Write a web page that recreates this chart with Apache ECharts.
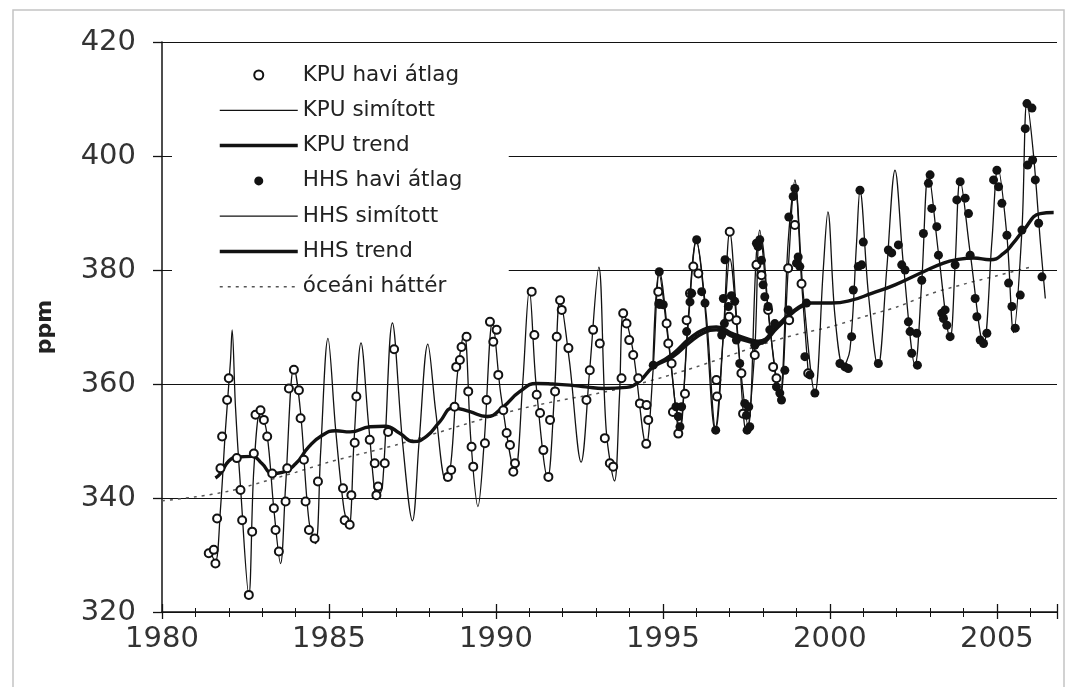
<!DOCTYPE html>
<html>
<head>
<meta charset="utf-8">
<script src="https://cdn.jsdelivr.net/npm/echarts@6/dist/echarts.min.js"></script>
<style>
  html, body { margin: 0; padding: 0; background: #fff; }
  #chart { width: 1071px; height: 687px; }
</style>
</head>
<body>
<div id="chart"></div>
<script>
// tengelyek
var xTicks = [1980, 1985, 1990, 1995, 2000, 2005];
var yTicks = [320, 340, 360, 380, 400, 420];

// KPU havi átlag (üres körök) [év, ppm]
var kpuMonthly = [
  [1981.40, 330.3], [1981.55, 330.9], [1981.60, 328.5], [1981.65, 336.4], [1981.75, 345.2],
  [1981.80, 350.8], [1981.95, 357.2], [1982.00, 361.0], [1982.24, 347.0], [1982.35, 341.4],
  [1982.40, 336.1], [1982.60, 323.0], [1982.70, 334.1], [1982.75, 347.8], [1982.80, 354.6],
  [1982.95, 355.4], [1983.05, 353.7], [1983.15, 350.8], [1983.30, 344.3], [1983.35, 338.2],
  [1983.40, 334.4], [1983.50, 330.6], [1983.70, 339.4], [1983.75, 345.2], [1983.80, 359.2],
  [1983.95, 362.5], [1984.10, 358.9], [1984.15, 354.0], [1984.25, 346.7], [1984.30, 339.4],
  [1984.40, 334.4], [1984.57, 332.9], [1984.67, 342.9], [1985.42, 341.7], [1985.47, 336.1],
  [1985.62, 335.3], [1985.67, 340.5], [1985.77, 349.7], [1985.82, 357.8], [1986.22, 350.2],
  [1986.37, 346.1], [1986.42, 340.5], [1986.47, 342.0], [1986.67, 346.1], [1986.77, 351.6],
  [1986.95, 366.1], [1988.56, 343.7], [1988.66, 344.9], [1988.76, 356.0], [1988.81, 363.0],
  [1988.92, 364.2], [1988.97, 366.5], [1989.12, 368.3], [1989.17, 358.7], [1989.27, 349.0],
  [1989.32, 345.5], [1989.67, 349.6], [1989.72, 357.2], [1989.82, 370.9], [1989.92, 367.4],
  [1990.02, 369.5], [1990.07, 361.6], [1990.22, 355.4], [1990.32, 351.4], [1990.42, 349.3],
  [1990.52, 344.6], [1990.57, 346.1], [1991.07, 376.2], [1991.15, 368.6], [1991.22, 358.1],
  [1991.32, 354.9], [1991.42, 348.4], [1991.57, 343.7], [1991.62, 353.7], [1991.77, 358.7],
  [1991.82, 368.3], [1991.92, 374.7], [1991.97, 373.0], [1992.17, 366.3], [1992.71, 357.2],
  [1992.81, 362.4], [1992.91, 369.5], [1993.11, 367.1], [1993.26, 350.5], [1993.41, 346.1],
  [1993.51, 345.5], [1993.76, 361.0], [1993.81, 372.4], [1993.91, 370.6], [1993.99, 367.7],
  [1994.11, 365.1], [1994.26, 361.0], [1994.31, 356.6], [1994.51, 356.3], [1994.56, 353.7],
  [1994.50, 349.5], [1994.86, 376.2], [1994.89, 374.1], [1995.11, 370.6], [1995.16, 367.1],
  [1995.26, 363.6], [1995.30, 355.1], [1995.46, 351.3], [1995.66, 358.3], [1995.71, 371.2],
  [1995.81, 375.9], [1995.91, 380.6], [1996.06, 379.4], [1996.60, 360.7], [1996.62, 357.8],
  [1997.00, 386.7], [1996.98, 371.8], [1997.20, 371.2], [1997.35, 361.9], [1997.40, 354.8],
  [1997.75, 365.1], [1997.80, 380.9], [1997.95, 379.1], [1998.15, 373.0], [1998.30, 363.0],
  [1998.40, 361.0], [1998.75, 380.3], [1998.78, 371.2], [1998.95, 387.9], [1999.15, 377.6],
  [1999.35, 361.9]
];

// KPU simított
var kpuSmooth = [
  [1981.45, 330.5], [1981.6, 328.8], [1981.75, 338], [1981.9, 352], [1982.05, 364],
  [1982.1, 369.5], [1982.2, 356], [1982.35, 342], [1982.6, 323], [1982.75, 345],
  [1982.95, 355.5], [1983.15, 351], [1983.35, 338], [1983.55, 328.5], [1983.7, 342],
  [1983.95, 363], [1984.15, 355], [1984.4, 336], [1984.6, 332], [1984.75, 348],
  [1984.97, 368], [1985.2, 352], [1985.45, 338], [1985.6, 335], [1985.75, 350],
  [1985.96, 367.2], [1986.2, 352], [1986.45, 340], [1986.6, 342], [1986.9, 370.7],
  [1987.2, 350], [1987.5, 336], [1987.7, 350], [1987.96, 367], [1988.2, 355],
  [1988.5, 343], [1988.65, 346], [1988.85, 362], [1989.05, 369], [1989.25, 350],
  [1989.46, 338.5], [1989.65, 350], [1989.9, 371], [1990.15, 358], [1990.57, 344.6],
  [1990.8, 360], [1991.0, 376.5], [1991.2, 360], [1991.55, 343.5], [1991.75, 358],
  [1991.92, 375], [1992.2, 364], [1992.55, 346.3], [1992.8, 362], [1993.08, 380.5],
  [1993.3, 352], [1993.55, 343], [1993.7, 358], [1993.82, 372.5], [1994.1, 366],
  [1994.5, 349.3], [1994.7, 362], [1994.9, 379.7], [1995.2, 366], [1995.5, 351.4],
  [1995.75, 371], [1996.0, 385.3], [1996.25, 374], [1996.56, 352], [1996.8, 368],
  [1997.0, 386.7], [1997.25, 368], [1997.5, 351.4], [1997.75, 366], [1997.9, 387],
  [1998.15, 373], [1998.5, 357.2], [1998.75, 380], [1998.95, 395.8], [1999.15, 378],
  [1999.35, 362]
];

// KPU trend
var kpuTrend = [
  [1981.6, 343.5], [1981.75, 344.3], [1982.0, 346.5], [1982.25, 347.2], [1982.7, 347.3],
  [1983.0, 346], [1983.3, 344.3], [1983.6, 344.5], [1984.0, 346], [1984.4, 349],
  [1984.8, 351], [1985.2, 351.8], [1985.63, 351.6], [1986.23, 352.5], [1986.68, 352.6],
  [1987.13, 351.3], [1987.52, 349.9], [1987.92, 350.8], [1988.32, 353.4], [1988.72, 355.8],
  [1989.2, 355.2], [1989.72, 354.3], [1990.22, 356], [1990.7, 358.6], [1991.22, 360.1],
  [1991.7, 360], [1992.21, 359.8], [1992.7, 359.5], [1993.21, 359.2], [1993.91, 359.4],
  [1994.3, 360.5], [1994.71, 363], [1995.3, 364.8], [1995.8, 367.3], [1996.2, 368.9],
  [1996.6, 369.5], [1997.1, 368.3], [1997.6, 367.4], [1997.85, 367.1], [1998.45, 370],
  [1998.95, 372.8], [1999.3, 374]
];

// HHS havi átlag (teli körök)
var hhsMonthly = [
  [1994.71, 363.3], [1994.89, 379.7], [1994.91, 374.0], [1995.01, 373.9], [1995.39, 356.0],
  [1995.46, 354.3], [1995.51, 352.5], [1995.56, 356.0], [1995.71, 369.2], [1995.81, 374.4],
  [1995.86, 375.9], [1996.01, 385.3], [1996.16, 376.2], [1996.26, 374.2], [1996.58, 351.9],
  [1996.76, 368.6], [1996.81, 375.0], [1996.84, 370.6], [1996.86, 381.8], [1996.96, 373.6],
  [1997.05, 375.5], [1997.15, 374.5], [1997.20, 367.7], [1997.30, 363.6], [1997.45, 356.6],
  [1997.50, 354.5], [1997.52, 351.9], [1997.57, 356.0], [1997.60, 352.5], [1997.75, 366.8],
  [1997.80, 384.7], [1997.85, 384.1], [1997.90, 385.3], [1997.95, 381.7], [1998.00, 377.4],
  [1998.05, 375.3], [1998.15, 373.6], [1998.20, 369.5], [1998.35, 370.6], [1998.40, 359.5],
  [1998.50, 358.4], [1998.55, 357.2], [1998.65, 362.4], [1998.75, 373.0], [1998.77, 389.3],
  [1998.90, 392.9], [1998.95, 394.3], [1999.00, 381.2], [1999.05, 382.3], [1999.10, 380.6],
  [1999.25, 364.8], [1999.30, 374.2], [1999.40, 361.6], [1999.55, 358.4], [2000.30, 363.6],
  [2000.45, 363.0], [2000.55, 362.7], [2000.65, 368.3], [2000.70, 376.5], [2000.85, 380.6],
  [2000.90, 394.0], [2000.95, 380.9], [2001.00, 384.9], [2001.45, 363.6], [2001.75, 383.5],
  [2001.85, 383.0], [2002.05, 384.4], [2002.15, 380.9], [2002.25, 380.0], [2002.35, 370.9],
  [2002.40, 369.2], [2002.45, 365.4], [2002.60, 368.9], [2002.62, 363.3], [2002.75, 378.2],
  [2002.80, 386.4], [2002.95, 395.2], [2003.00, 396.7], [2003.05, 390.8], [2003.20, 387.6],
  [2003.25, 382.6], [2003.35, 372.4], [2003.40, 371.5], [2003.45, 373.0], [2003.50, 370.3],
  [2003.60, 368.3], [2003.75, 380.9], [2003.80, 392.3], [2003.90, 395.5], [2004.05, 392.6],
  [2004.15, 389.9], [2004.20, 382.6], [2004.35, 375.0], [2004.40, 371.8], [2004.50, 367.7],
  [2004.60, 367.1], [2004.70, 368.9], [2004.90, 395.8], [2005.00, 397.5], [2005.05, 394.6],
  [2005.15, 391.7], [2005.30, 386.1], [2005.35, 377.7], [2005.45, 373.6], [2005.55, 369.8],
  [2005.70, 375.6], [2005.75, 387.0], [2005.85, 404.8], [2005.90, 409.2], [2006.05, 408.4],
  [2005.92, 398.4], [2006.07, 399.3], [2006.15, 395.8], [2006.25, 388.2], [2006.35, 378.8]
];

// HHS simított
var hhsSmooth = [
  [1994.7, 363.6], [1994.88, 379.5], [1995.15, 368], [1995.5, 352.5], [1995.75, 370],
  [1996.0, 385], [1996.3, 372], [1996.58, 352], [1996.85, 372], [1997.0, 382],
  [1997.3, 364], [1997.55, 352.5], [1997.8, 383], [1997.92, 386], [1998.2, 370],
  [1998.5, 358], [1998.75, 385], [1998.95, 395], [1999.2, 376], [1999.55, 358.4],
  [1999.8, 380], [1999.94, 390.2], [2000.15, 372], [2000.4, 363], [2000.6, 366],
  [2000.8, 385], [2000.9, 394], [2001.15, 376], [2001.44, 363], [2001.7, 380],
  [2001.95, 397.5], [2002.2, 381], [2002.55, 363.3], [2002.75, 378], [2002.95, 397],
  [2003.25, 383], [2003.6, 368], [2003.75, 381], [2003.9, 395.8], [2004.2, 383],
  [2004.6, 366.8], [2004.85, 385], [2005.03, 398], [2005.3, 386], [2005.5, 369],
  [2005.75, 387], [2005.9, 409.5], [2006.1, 400], [2006.3, 385], [2006.45, 375]
];

// HHS trend
var hhsTrend = [
  [1994.8, 363.5], [1995.3, 365.3], [1995.8, 368], [1996.2, 369.5], [1996.6, 370],
  [1997.1, 368.8], [1997.6, 367.8], [1997.85, 367.5], [1998.45, 370.4], [1998.95, 373],
  [1999.45, 374.2], [2000.05, 374.2], [2000.65, 374.7], [2001.25, 375.9], [2001.95, 377.4],
  [2002.8, 379.7], [2003.4, 381.2], [2003.8, 381.8], [2004.3, 382.1], [2004.8, 381.8],
  [2005.2, 382.9], [2005.5, 384.8], [2005.8, 387], [2006.3, 389.9], [2006.7, 390.1]
];

// óceáni háttér
var ocean = [
  [1980, 339.5], [1981, 340.2], [1982, 341.2], [1983, 342.8], [1984, 344.5],
  [1985, 346.3], [1986, 347.8], [1987, 349.3], [1988, 351], [1989, 352.8],
  [1990, 354.5], [1991, 356], [1992, 357.2], [1993, 358.3], [1994, 359.6],
  [1995, 361.2], [1996, 363], [1997, 365], [1998, 367], [1999, 368.7],
  [2000, 370], [2001, 371.8], [2002, 373.5], [2003, 375.8], [2004, 377.5],
  [2005, 379], [2006, 380.5]
];

var ink = '#121212';
var font = 'DejaVu Sans';
var noDot = { opacity: 0 };

var myChart = echarts.init(document.getElementById('chart'));
myChart.setOption({
  backgroundColor: '#fff',
  animation: false,
  color: [ink],
  textStyle: { fontFamily: font },
  graphic: [{
    type: 'rect',
    shape: { x: 13, y: 10, width: 1051, height: 700 },
    style: { fill: 'none', stroke: '#c4c4c4', lineWidth: 1.5 },
    silent: true
  }],
  grid: { left: 162, right: 14, top: 42, bottom: 75 },
  legend: {
    orient: 'vertical',
    left: 172,
    top: 44,
    padding: [19, 36, 10, 46],
    backgroundColor: '#fff',
    itemWidth: 78,
    itemHeight: 9,
    itemGap: 11.3,
    textStyle: { fontFamily: font, fontSize: 21.5, color: '#222', lineHeight: 24, width: 170 },
    data: [
      'KPU havi átlag',
      { name: 'KPU simított', itemStyle: noDot, lineStyle: { width: 1.3 } },
      { name: 'KPU trend', itemStyle: noDot, lineStyle: { width: 3.5 } },
      'HHS havi átlag',
      { name: 'HHS simított', itemStyle: noDot, lineStyle: { width: 1.3 } },
      { name: 'HHS trend', itemStyle: noDot, lineStyle: { width: 3.5 } },
      { name: 'óceáni háttér', itemStyle: noDot, lineStyle: { width: 1.5 } }
    ]
  },
  xAxis: [{
    type: 'value',
    min: 1980,
    max: 2006.8,
    interval: 5,
    axisLine: { lineStyle: { color: ink, width: 1.5 } },
    axisTick: { length: 7, lineStyle: { color: ink, width: 1.3 } },
    minorTick: { show: true, splitNumber: 5, length: 5, lineStyle: { color: ink, width: 1 } },
    splitLine: { show: false },
    axisLabel: {
      fontSize: 29, color: '#333', margin: 13, showMaxLabel: false,
      formatter: function (v) { return xTicks.indexOf(v) >= 0 ? String(v) : ''; }
    }
  }, {
    type: 'value',
    position: 'bottom',
    min: 1980,
    max: 2006.8,
    interval: 5,
    axisLine: { show: false },
    axisTick: { inside: true, length: 8, lineStyle: { color: ink, width: 1.3 } },
    minorTick: { show: true, splitNumber: 5, length: 4, lineStyle: { color: ink, width: 1 } },
    splitLine: { show: false },
    axisLabel: { show: false }
  }],
  yAxis: {
    type: 'value',
    min: 320,
    max: 420,
    interval: 20,
    name: 'ppm',
    nameLocation: 'middle',
    nameRotate: 90,
    nameGap: 106,
    nameTextStyle: { fontSize: 22, fontWeight: 'bold', color: '#222' },
    axisLine: { show: true, lineStyle: { color: ink, width: 1.5 } },
    axisTick: { show: true, length: 9, lineStyle: { color: ink, width: 1.3 } },
    splitLine: { show: true, lineStyle: { color: ink, width: 1.2 } },
    axisLabel: {
      fontSize: 29, color: '#333', margin: 26,
      formatter: function (v) { return yTicks.indexOf(v) >= 0 ? String(v) : ''; }
    }
  },
  series: [
    {
      name: 'KPU havi átlag', type: 'scatter', data: kpuMonthly, z: 6,
      symbol: 'emptyCircle', symbolSize: 8,
      itemStyle: { color: ink, borderWidth: 1.6, opacity: 1 }
    },
    {
      name: 'KPU simított', type: 'line', data: kpuSmooth, z: 3,
      symbol: 'none', smooth: 0.35, color: ink,
      lineStyle: { color: ink, width: 1.3 }
    },
    {
      name: 'KPU trend', type: 'line', data: kpuTrend, z: 4,
      symbol: 'none', smooth: 0.5, color: ink,
      lineStyle: { color: ink, width: 3.4 }
    },
    {
      name: 'HHS havi átlag', type: 'scatter', data: hhsMonthly, z: 7,
      symbol: 'circle', symbolSize: 9,
      itemStyle: { color: ink, opacity: 1 }
    },
    {
      name: 'HHS simított', type: 'line', data: hhsSmooth, z: 3,
      symbol: 'none', smooth: 0.35, color: ink,
      lineStyle: { color: ink, width: 1.3 }
    },
    {
      name: 'HHS trend', type: 'line', data: hhsTrend, z: 4,
      symbol: 'none', smooth: 0.5, color: ink,
      lineStyle: { color: ink, width: 3.4 }
    },
    {
      name: 'óceáni háttér', type: 'line', data: ocean, z: 2,
      symbol: 'none', smooth: 0.3, color: '#555',
      lineStyle: { color: '#555', width: 1.5, type: [3, 5] }
    }
  ]
});
</script>
</body>
</html>
